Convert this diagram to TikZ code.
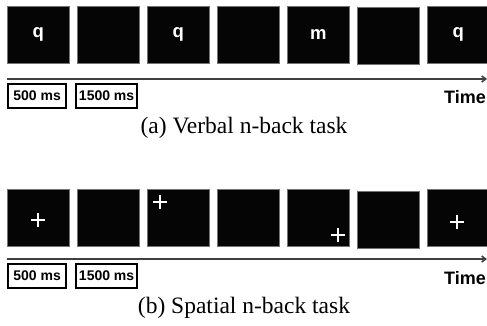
\documentclass[tikz,border=0pt]{standalone}
\usepackage{fontspec}
\setmainfont{Liberation Serif}
\newfontfamily\arialfont{Liberation Sans}
\usetikzlibrary{arrows.meta}
\begin{document}
\begin{tikzpicture}[x=1pt,y=-1pt,
  stim/.style={draw=black!55,line width=0.6pt,fill=black!98,minimum width=62pt,minimum height=57pt,inner sep=0pt,anchor=north west,text=white,font=\arialfont\bfseries\fontsize{18.5}{18.5}\selectfont},
  timebox/.style={draw=black,line width=2.2pt,fill=white,minimum width=58pt,minimum height=24pt,inner sep=0pt,anchor=north west,font=\arialfont\bfseries\fontsize{14}{14}\selectfont},
  widebox/.style={timebox,minimum width=61pt},
  timelabel/.style={anchor=east,inner sep=0pt,font=\arialfont\bfseries\fontsize{18}{18}\selectfont},
  timeline/.style={draw=black!75,line width=1.6pt,-{Straight Barb[length=4pt,width=6pt]}},
  caption/.style={inner sep=0pt,font=\fontsize{23.5}{24}\selectfont},
  crossmark/.style={draw=white,line width=2pt}
]
\useasboundingbox (0,0) rectangle (487,325);
\clip (0,0) rectangle (487,325);
% ---------- (a) verbal ----------
\node[stim] (a1) at (7,6) {q};
\node[stim] (a2) at (77,6) {};
\node[stim] (a3) at (147,6) {q};
\node[stim] (a4) at (217,6) {};
\node[stim] (a5) at (287,6) {m};
\node[stim] (a6) at (357,7) {};
\node[stim] (a7) at (427,6) {q};
\coordinate (as) at (7,79);
\coordinate (ae) at (487,79);
\draw[timeline] (as) -- (ae);
\node[timebox] (a500) at (7,83) {500 ms};
\node[widebox] (a1500) at (75,83) {1500 ms};
\node[timelabel] (atime) at (486,97) {Time};
\node[caption] (capa) at (244,128) {(a) Verbal n-back task};
% ---------- (b) spatial ----------
\node[stim] (b1) at (7,189) {};
\node[stim] (b2) at (77,189) {};
\node[stim] (b3) at (147,189) {};
\node[stim] (b4) at (217,189) {};
\node[stim] (b5) at (287,189) {};
\node[stim] (b6) at (357,191) {};
\node[stim] (b7) at (427,189) {};
\draw[crossmark] (31,220) -- (45,220) (38,213) -- (38,227);
\draw[crossmark] (153,202) -- (167,202) (160,195) -- (160,209);
\draw[crossmark] (331,235) -- (345,235) (338,228) -- (338,242);
\draw[crossmark] (450,222) -- (464,222) (457,215) -- (457,229);
\coordinate (bs) at (7,259);
\coordinate (be) at (487,259);
\draw[timeline] (bs) -- (be);
\node[timebox] (b500) at (7,263) {500 ms};
\node[widebox] (b1500) at (75,263) {1500 ms};
\node[timelabel] (btime) at (486,278) {Time};
\node[caption] (capb) at (244,308) {(b) Spatial n-back task};
\end{tikzpicture}
\end{document}
